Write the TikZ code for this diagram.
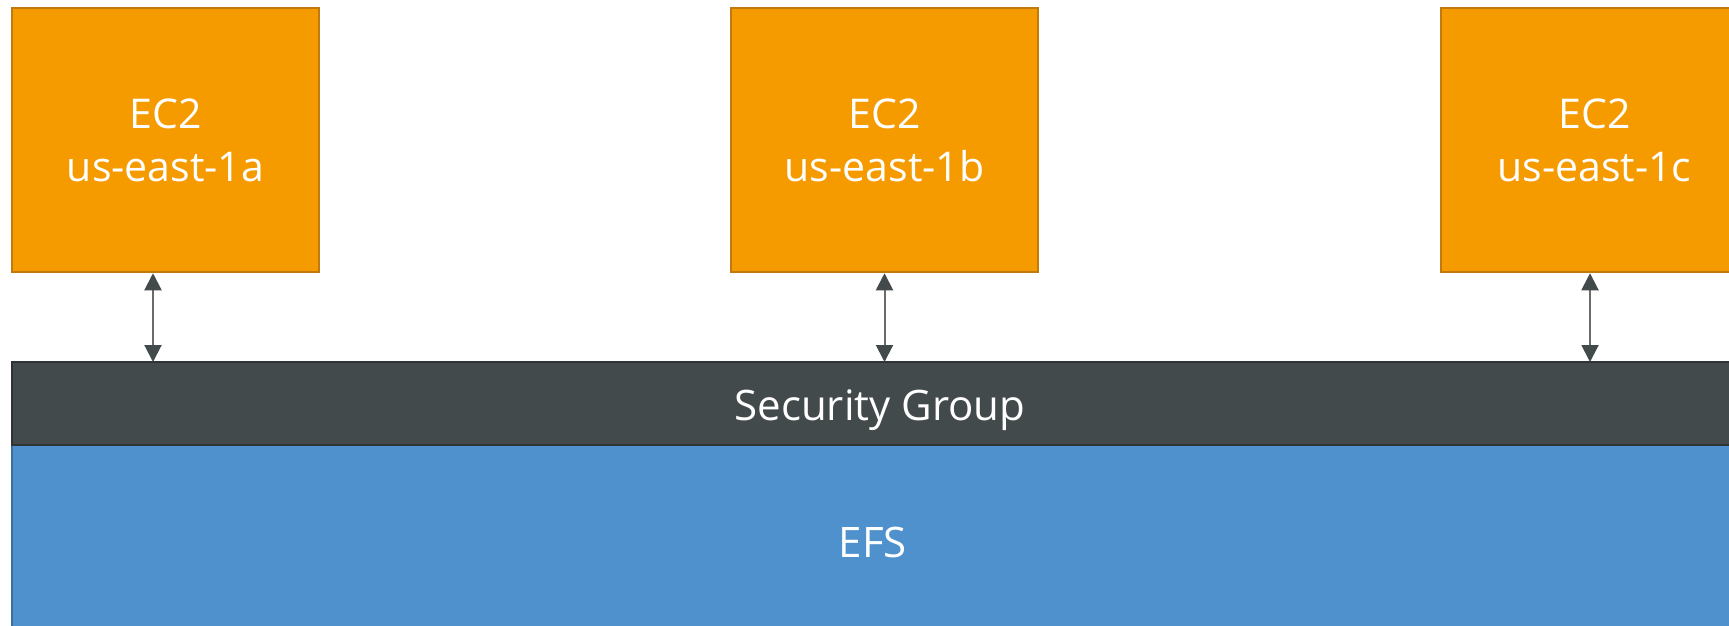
\documentclass[tikz,border=0pt]{standalone}
\usepackage{fontspec}
\setmainfont{Open Sans}
\usetikzlibrary{arrows.meta}
\definecolor{ecfill}{HTML}{F59B00}
\definecolor{ecdraw}{HTML}{C27A0E}
\definecolor{sgfill}{HTML}{434A4B}
\definecolor{sgdraw}{HTML}{2E3435}
\definecolor{efsfill}{HTML}{4F91CD}
\definecolor{efsdraw}{HTML}{3D6E9E}
\definecolor{arrline}{HTML}{6B6B6B}
\definecolor{arrhead}{HTML}{434A4B}
\tikzset{
  ecbox/.style={draw=ecdraw, fill=ecfill, line width=2.5pt, minimum width=307pt, minimum height=264pt,
    inner sep=0pt, text=white, font=\fontsize{41}{53}\selectfont, align=center},
  sgbar/.style={draw=sgdraw, fill=sgfill, line width=2.5pt, inner sep=0pt},
  efsbar/.style={draw=efsdraw, fill=efsfill, line width=2.5pt, inner sep=0pt},
  lbl/.style={text=white, font=\fontsize{42}{53}\selectfont, inner sep=0pt},
  link/.style={draw=arrline, line width=2pt, {Triangle[length=17pt,width=17pt,color=arrhead]}-{Triangle[length=17pt,width=17pt,color=arrhead]}, shorten <=0pt, shorten >=0pt}
}
\begin{document}
\begin{tikzpicture}[x=1pt,y=-1pt]
\useasboundingbox (0,0) rectangle (1729,625);
\clip (0,0) rectangle (1729,625);
\node[ecbox] (a) at (165.5,140) {EC2\\us-east-1a};
\node[ecbox] (b) at (884.5,140) {EC2\\us-east-1b};
\node[ecbox] (c) at (1594.5,140) {EC2\\us-east-1c};
\path[efsbar] (12,445) rectangle (1760,660);
\path[sgbar] (12,362) rectangle (1760,445);
\coordinate (sgtop) at (0,362);
\node[lbl] (sg) at (880,410) {Security Group};
\node[lbl] (efs) at (873,542) {EFS};
\draw[link] (a.south -| 153,0) -- (sgtop -| 153,0);
\draw[link] (b.south) -- (sgtop -| b.south);
\draw[link] (c.south -| 1590,0) -- (sgtop -| 1590,0);
\end{tikzpicture}
\end{document}
